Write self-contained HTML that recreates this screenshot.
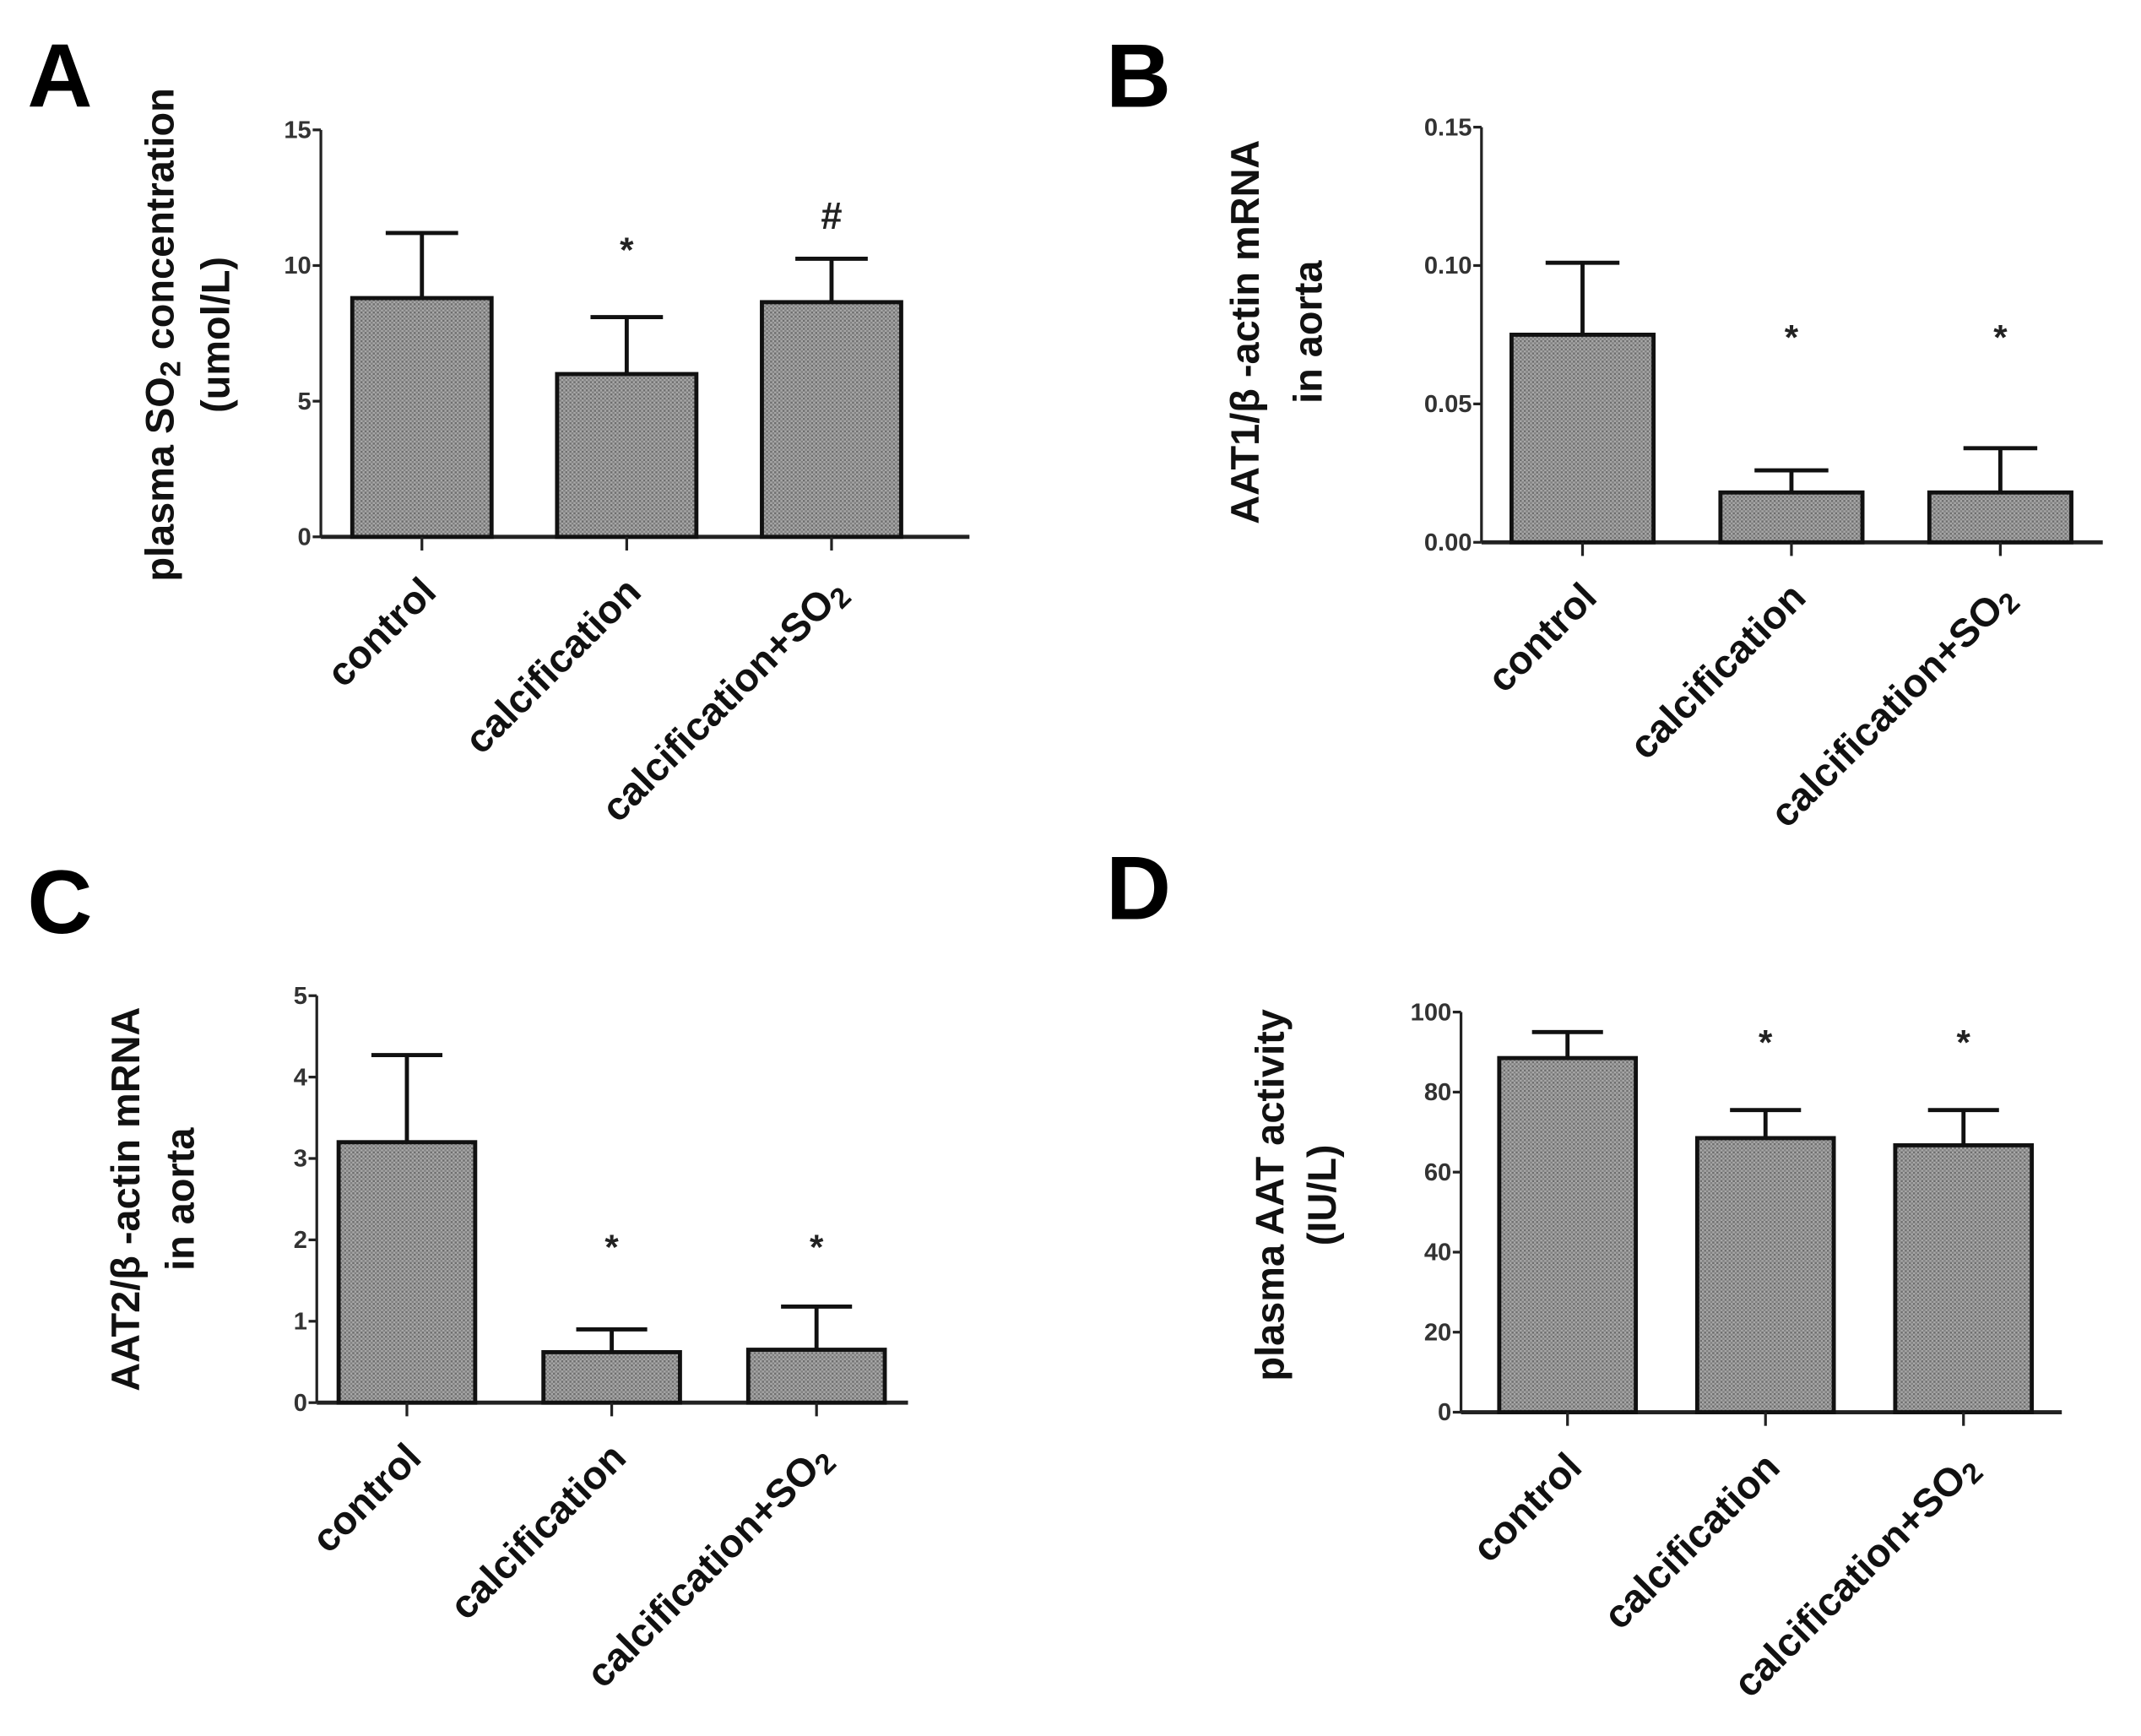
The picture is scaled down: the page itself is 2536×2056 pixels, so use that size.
<!DOCTYPE html>
<html><head><meta charset="utf-8"><style>html,body{margin:0;padding:0;background:#fff}svg{display:block}</style></head>
<body>
<svg id="fig" width="2536" height="2056" viewBox="0 0 1568 1271" xmlns="http://www.w3.org/2000/svg" font-family="Liberation Sans, Arial, sans-serif">
<defs>
<pattern id="dots" width="3" height="3" patternUnits="userSpaceOnUse">
<rect width="3" height="3" fill="#a8a8a8"/><rect width="1.5" height="1.5" fill="#6e6e6e"/><rect x="1.5" y="1.5" width="1.5" height="1.5" fill="#808080"/>
</pattern>
</defs>
</svg>
<script>
const categories = ["control","calcification","calcification+SO2"];
const valuesA = [8.8, 6.0, 8.65];
const errorsA = [11.2, 8.1, 10.25];
const marksA = ["", "*", "#"];
const ticksA = [0,5,10,15];
const valuesB = [0.075, 0.018, 0.018];
const errorsB = [0.101, 0.026, 0.034];
const marksB = ["", "*", "*"];
const ticksB = [0,0.05,0.10,0.15];
const tickLabelsB = ["0.00","0.05","0.10","0.15"];
const valuesC = [3.2, 0.62, 0.65];
const errorsC = [4.27, 0.9, 1.18];
const marksC = ["", "*", "*"];
const ticksC = [0,1,2,3,4,5];
const valuesD = [88.5, 68.5, 66.7];
const errorsD = [95, 75.5, 75.5];
const marksD = ["", "*", "*"];
const ticksD = [0,20,40,60,80,100];

const svg = document.getElementById('fig');
const NS = 'http://www.w3.org/2000/svg';
function mk(tag, attrs, parent){const e=document.createElementNS(NS,tag);for(const k in attrs)e.setAttribute(k,attrs[k]);(parent||svg).appendChild(e);return e;}

function panel(p){
  const g = mk('g',{});
  
  
  const yScale = v => p.y0 - (v - p.min)/(p.max - p.min)*(p.y0 - p.y1);
  const lt = mk('text',{x:p.letter[0],y:p.letter[1],'font-size':66,'font-weight':'bold',fill:'#000'},g);
  lt.textContent = p.id;
  
  
  const ya = mk('line',{x1:p.ax,y1:p.y1,x2:p.ax,y2:p.y0,stroke:'#222','stroke-width':2},g);
  
  
  p.ticks.forEach((t,i)=>{
    const y = yScale(t);
    mk('line',{x1:p.ax-6,y1:y,x2:p.ax,y2:y,stroke:'#222','stroke-width':2},g);
    const tx = mk('text',{x:p.ax-7,y:y+6,'font-size':18,'text-anchor':'end',fill:'#333','font-weight':'bold'},g);
    tx.textContent = p.tickLabels ? p.tickLabels[i] : String(t);
    
    
  });
  const xa = mk('line',{x1:p.ax,y1:p.y0,x2:p.axEnd,y2:p.y0,stroke:'#222','stroke-width':3},g);
  
  
  p.values.forEach((v,i)=>{
    const cx = p.bx0 + i*p.step, w = p.bw;
    const top = yScale(v), et = yScale(p.errors[i]);
    mk('line',{x1:cx,y1:top,x2:cx,y2:et,stroke:'#111','stroke-width':3},g);
    mk('line',{x1:cx-w*0.26,y1:et,x2:cx+w*0.26,y2:et,stroke:'#111','stroke-width':3},g);
    const r = mk('rect',{x:cx-w/2,y:top,width:w,height:p.y0-top,fill:'url(#dots)',stroke:'#111','stroke-width':3},g);
    
    
    mk('line',{x1:cx,y1:p.y0,x2:cx,y2:p.y0+10,stroke:'#222','stroke-width':2},g);
    if(p.marks[i]){
      const m = mk('text',{x:cx,y:p.marks[i]==='#'?yScale(p.errors[i])-22:p.starY,'font-size':p.marks[i]==='#'?28:26,'font-weight':'bold','text-anchor':'middle',fill:'#222'},g);
      m.textContent = p.marks[i];
      
      
    }
    const lx = cx+12, ly = p.y0+42;
    const cl = mk('text',{x:lx,y:ly,'font-size':29,'font-weight':'bold','text-anchor':'end',fill:'#111',transform:`rotate(-45 ${lx} ${ly})`},g);
    if(categories[i]==='calcification+SO2'){
      cl.textContent='calcification+SO';
      const s = mk('tspan',{'font-size':21,dy:5},cl); s.textContent='2';
    } else cl.textContent = categories[i];
    
    
  });
  p.title.forEach((ln,k)=>{
    const x = p.titleX[k], y = p.titleY;
    const t = mk('text',{x:x,y:y,'font-size':29,'font-weight':'bold','text-anchor':'middle',fill:'#111',transform:`rotate(-90 ${x} ${y})`},g);
    if(Array.isArray(ln)){
      t.appendChild(document.createTextNode(ln[0]));
      const s=mk('tspan',{'font-size':21,dy:5},t); s.textContent=ln[1];
      const s2=mk('tspan',{dy:-5},t); s2.textContent=ln[2];
    } else t.textContent = ln;
    
    
  });
}

panel({id:'A',letter:[20,78],ax:235,axEnd:710,y0:393,y1:95,min:0,max:15,ticks:ticksA,values:valuesA,errors:errorsA,marks:marksA,
  bx0:309,step:150,bw:102,starY:192,title:[['plasma SO','2',' concentration'],'(umol/L)'],titleX:[127,168],titleY:245});
panel({id:'B',letter:[810,78],ax:1085,axEnd:1540,y0:397,y1:93,min:0,max:0.15,ticks:ticksB,tickLabels:tickLabelsB,values:valuesB,errors:errorsB,marks:marksB,
  bx0:1159,step:153,bw:104,starY:256,title:['AAT1/β -actin mRNA','in aorta'],titleX:[922,968],titleY:243});
panel({id:'C',letter:[20,683],ax:232,axEnd:665,y0:1027,y1:729,min:0,max:5,ticks:ticksC,values:valuesC,errors:errorsC,marks:marksC,
  bx0:298,step:150,bw:100,starY:922,title:['AAT2/β -actin mRNA','in aorta'],titleX:[102,142],titleY:878});
panel({id:'D',letter:[810,673],ax:1070,axEnd:1510,y0:1034,y1:741,min:0,max:100,ticks:ticksD,values:valuesD,errors:errorsD,marks:marksD,
  bx0:1148,step:145,bw:100,starY:772,title:['plasma AAT activity','(IU/L)'],titleX:[940,978],titleY:875});
</script>
</body></html>
